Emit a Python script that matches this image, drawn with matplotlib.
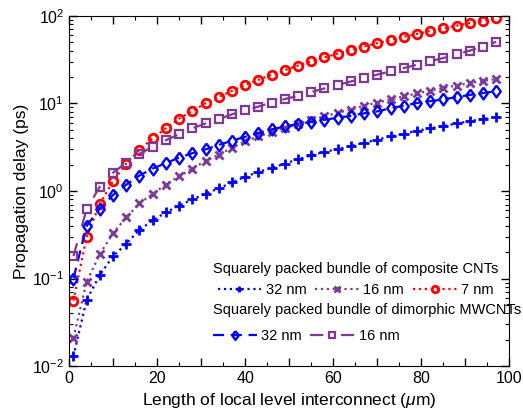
"""
Propagation delay vs. interconnect length for CNT / MWCNT bundles
"""

import matplotlib
matplotlib.use("Agg")
import matplotlib.pyplot as plt
from matplotlib.ticker import MultipleLocator, FuncFormatter, LogLocator

plt.rcParams['font.family'] = ['Liberation Sans', 'DejaVu Sans']
plt.rcParams['mathtext.fontset'] = 'custom'
plt.rcParams['mathtext.it'] = 'Liberation Sans:italic'

# interconnect length (um)
length = [1, 4, 7, 10, 13, 16, 19, 22, 25, 28, 31, 34, 37, 40, 43, 46, 49,
          52, 55, 58, 61, 64, 67, 70, 73, 76, 79, 82, 85, 88, 91, 94, 97]

# squarely packed bundle of composite CNTs (ps)
cnt_32 = [0.013, 0.057, 0.11, 0.18, 0.25, 0.36, 0.46, 0.57, 0.68, 0.80, 0.93,
          1.07, 1.25, 1.45, 1.65, 1.83, 2.05, 2.3, 2.55, 2.8, 3.0, 3.25, 3.55,
          3.85, 4.2, 4.5, 4.85, 5.2, 5.5, 5.9, 6.25, 6.65, 7.0]
cnt_16 = [0.021, 0.092, 0.19, 0.33, 0.50, 0.72, 0.93, 1.18, 1.47, 1.8, 2.2,
          2.6, 3.1, 3.7, 4.2, 4.7, 5.25, 5.8, 6.5, 7.1, 7.8, 8.5, 9.4, 10.2,
          11.1, 12.0, 13.0, 14.0, 15.0, 16.0, 17.0, 18.0, 19.0]
cnt_7 = [0.056, 0.30, 0.71, 1.30, 2.05, 2.95, 4.0, 5.2, 6.7, 8.2, 10.0, 11.8,
         13.9, 16.2, 18.6, 21.2, 24.0, 27.0, 30.2, 33.5, 37.0, 40.7, 44.6,
         48.7, 53.0, 57.5, 62.2, 67.0, 72.0, 77.2, 82.6, 88.0, 93.5]

# squarely packed bundle of dimorphic MWCNTs (ps)
mw_32 = [0.10, 0.40, 0.63, 0.90, 1.18, 1.50, 1.80, 2.08, 2.40, 2.70, 2.98,
         3.35, 3.75, 4.15, 4.6, 5.05, 5.45, 5.8, 6.15, 6.5, 6.85, 7.2, 7.7,
         8.1, 8.8, 9.4, 10.1, 10.6, 11.1, 11.8, 12.5, 13.1, 13.8]
mw_16 = [0.18, 0.62, 1.12, 1.62, 2.1, 2.65, 3.2, 3.8, 4.45, 5.2, 5.9, 6.6,
         7.5, 8.3, 9.2, 10.2, 11.2, 12.2, 13.5, 14.8, 16.2, 17.8, 19.5, 21.3,
         23.2, 25.3, 27.6, 30.2, 33.0, 36.5, 40.0, 44.5, 50.5]

BLUE = '#0000ff'
PURPLE = '#7e3896'
RED = '#ff0000'

# diamond a bit wider than matplotlib's thin diamond
DIAMOND = [(0, 1), (0.72, 0), (0, -1), (-0.72, 0), (0, 1)]

fig = plt.figure(figsize=(5.23, 4.16), dpi=100)
ax = fig.add_axes([0.132, 0.12, 0.842, 0.842])

h1, = ax.plot(length, cnt_32, ls=':', lw=1.6, color=BLUE, marker='+',
              ms=6.5, mew=2, label='32 nm')
h2, = ax.plot(length, cnt_16, ls=':', lw=1.6, color=PURPLE, marker='x',
              ms=5.5, mew=2, label='16 nm')
h3, = ax.plot(length, cnt_7, ls=':', lw=1.6, color=RED, marker='o',
              ms=6.2, mew=2, mfc='none', label='7 nm')
h4, = ax.plot(length, mw_32, ls=(0, (5, 3)), lw=1.6, color=BLUE, marker=DIAMOND,
              ms=8.5, mew=1.7, mfc='none', label='32 nm')
h5, = ax.plot(length, mw_16, ls=(0, (6, 8)), lw=1.6, color=PURPLE, marker='s',
              ms=5.5, mew=1.6, mfc='none', label='16 nm')

ax.set_yscale('log')
ax.set_xlim(0, 100)
ax.set_ylim(1e-2, 1e2)

ax.xaxis.set_major_locator(MultipleLocator(10))
ax.xaxis.set_minor_locator(MultipleLocator(5))
ax.xaxis.set_major_formatter(FuncFormatter(
    lambda v, pos: '%d' % v if round(v) % 20 == 0 else ''))
ax.yaxis.set_major_locator(LogLocator(base=10, numticks=10))
ax.yaxis.set_minor_locator(LogLocator(base=10, subs=range(2, 10), numticks=20))

ax.tick_params(which='both', direction='in', top=True, right=True,
               labelsize=11.5, colors='black')
ax.tick_params(which='major', length=6, width=1)
ax.tick_params(which='minor', length=3, width=0.8)

ax.set_xlabel(r'Length of local level interconnect ($\mu$m)', fontsize=12.5,
              labelpad=4)
ax.set_ylabel('Propagation delay (ps)', fontsize=12.5, labelpad=2)

leg1 = ax.legend(handles=[h1, h2, h3], title='Squarely packed bundle of composite CNTs',
                 ncol=3, loc='upper left', bbox_to_anchor=(0.31, 0.318),
                 frameon=False, fontsize=10.5, title_fontsize=10.5,
                 handlelength=3.0, handletextpad=0.3, columnspacing=0.6,
                 numpoints=1, borderpad=0, markerscale=0.75)
ax.add_artist(leg1)
ax.legend(handles=[h4, h5], title='Squarely packed bundle of dimorphic MWCNTs',
          ncol=2, loc='upper left', bbox_to_anchor=(0.31, 0.202),
          frameon=False, fontsize=10.5, title_fontsize=10.5,
          handlelength=3.0, handletextpad=0.3, columnspacing=0.6,
          labelspacing=0.85, numpoints=1, borderpad=0, markerscale=0.75,
          alignment='left')

fig.savefig('out.png', dpi=100)
